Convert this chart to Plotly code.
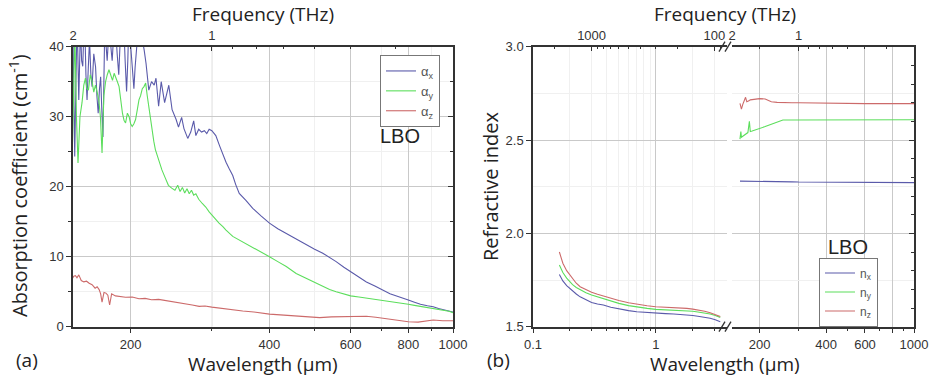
import math
import plotly.graph_objects as go

W, H = 932, 383
def px(x): return x / W
def py(y): return 1 - y / H

# ---------------- Panel (a): absorption coefficient ----------------
ax_lam = [149.8, 150.5, 151.3, 152.2, 153.1, 154.4, 155.7, 156.6, 157.5, 158.3, 159.1, 160.0,
          160.9, 161.9, 162.9, 164.0, 165.0, 166.4, 167.9, 169.0, 170.1, 171.2, 172.2, 173.2,
          174.2, 175.0, 175.9, 177.0, 177.9, 179.0, 180.1, 181.2, 182.4, 183.9, 185.4, 187.0,
          188.5, 189.6, 190.7, 192.0, 193.3, 194.6, 196.0, 197.2, 198.3, 199.6, 201.0, 202.2,
          203.3, 204.5, 205.7, 207.1, 208.5, 210.3, 212.1, 214.0, 216.0, 219.0, 222.0, 225.0,
          227.0, 230.0, 233.0, 237.0, 242.0, 246.0, 248.0, 251.0, 254.0, 258.0, 261.0, 266.0,
          270.0, 274.0, 277.0, 281.0, 285.0, 289.0, 292.5, 296.0, 300.0, 306.0, 312.0, 317.0,
          322.0, 327.0, 333.0, 338.0, 344.0, 356.0, 368.0, 384.0, 400.0, 417.0, 435.0, 457.0,
          481.0, 500.0, 522.0, 540.0, 558.0, 580.0, 600.0, 625.0, 649.0, 677.0, 705.0, 730.0,
          760.0, 780.0, 800.0, 825.0, 850.0, 880.0, 906.0, 930.0, 955.0, 980.0, 1000.0]
ax_val = [44, 30, 24.3, 35, 44, 32.4, 43, 38, 37.2, 42, 43, 36,
          32.4, 37, 41, 36, 34.3, 39, 37.1, 33, 30.5, 34, 35.7, 31,
          27.1, 35, 44, 40, 38, 41, 44, 40, 38, 42, 43, 39,
          36, 40, 44, 42, 43, 38, 33.6, 38, 44, 41, 38, 36,
          34, 37, 39, 43, 44, 42, 41, 39.5, 37.6, 33.8, 35, 34.5,
          35.5, 31.5, 35, 32, 34.5, 31, 30.5, 29.6, 28.5, 29.9, 28.3, 26.9,
          27.8, 29.4, 27.3, 28.2, 27.8, 28, 27.6, 28.2, 28, 27.3, 25.8, 24.6,
          23.5, 22.6, 21.6, 20.3, 19.05, 18.0, 16.9, 15.8, 14.8, 14.0, 13.3, 12.5,
          11.7, 11.1, 10.5, 9.9, 9.3, 8.5, 7.86, 7.1, 6.4, 5.8, 5.2, 4.7,
          4.3, 4.0, 3.8, 3.5, 3.2, 3.0, 2.86, 2.6, 2.4, 2.25, 2.1]

ay_lam = [149.2, 150.3, 151.4, 152.6, 153.8, 155.3, 156.9, 158.3, 159.6, 160.8, 162.0, 163.5,
          165.0, 166.4, 167.8, 169.2, 170.6, 172.0, 173.4, 175.0, 176.5, 178.0, 179.5, 181.0,
          182.7, 184.2, 185.7, 187.2, 188.8, 190.4, 192.0, 193.5, 195.0, 196.8, 198.5, 200.0,
          201.6, 203.3, 205.0, 206.8, 208.5, 210.2, 212.0, 213.8, 215.6, 217.3, 219.0, 220.8,
          222.7, 224.5, 226.3, 230.0, 233.8, 237.6, 241.5, 245.5, 249.5, 253.0, 256.0, 259.0,
          262.0, 265.0, 268.0, 271.0, 274.0, 277.0, 281.0, 286.0, 291.0, 296.0, 301.0, 306.0,
          311.0, 317.0, 322.0, 333.0, 344.0, 356.0, 368.0, 384.0, 400.0, 417.0, 435.0, 457.0,
          481.0, 500.0, 522.0, 540.0, 558.0, 580.0, 600.0, 625.0, 649.0, 677.0, 705.0, 730.0,
          760.0, 780.0, 800.0, 825.0, 850.0, 880.0, 906.0, 930.0, 955.0, 980.0, 1000.0]
ay_val = [22.4, 38, 42, 30, 23.4, 30, 32, 34.5, 35.5, 34, 33.8, 36,
          35, 33.5, 34.5, 33.5, 32.4, 30, 24.8, 33, 35, 36, 36.7, 36,
          35.2, 36.2, 35.7, 35, 34.3, 32, 30.5, 29.5, 29.1, 30.5, 30, 29,
          28.6, 29, 29.6, 31, 32.4, 33, 34, 34.3, 34.8, 33, 31.4, 29.5,
          27.6, 26.5, 25.3, 23.8, 22.4, 21.3, 20.2, 19.8, 19.5, 20.2, 19.3, 19.9,
          19.1, 19.7, 19.0, 19.5, 18.8, 19.0, 18.2, 17.6, 17.1, 16.4, 15.8, 15.3,
          14.8, 14.3, 13.8, 12.9, 12.4, 11.9, 11.4, 10.7, 10.0, 9.3, 8.6, 7.6,
          6.9, 6.3, 5.7, 5.3, 5.0, 4.7, 4.4, 4.25, 4.1, 3.95, 3.8, 3.65,
          3.5, 3.35, 3.2, 3.05, 2.9, 2.75, 2.65, 2.5, 2.35, 2.2, 2.0]

az_lam = [149.5, 150.6, 151.8, 153.0, 154.4, 156.3, 158.3, 160.5, 162.6, 165.0, 167.5, 169.2,
          170.9, 172.2, 173.4, 174.3, 175.1, 176.8, 178.5, 180.1, 181.0, 181.9, 185.4, 190.0,
          195.0, 201.6, 208.5, 215.0, 222.0, 230.0, 238.0, 245.0, 255.0, 265.0, 272.0, 281.6,
          290.0, 300.0, 315.0, 333.0, 350.0, 370.0, 400.0, 430.0, 466.0, 490.0, 514.0, 545.0,
          575.0, 600.0, 649.0, 680.0, 705.0, 735.0, 762.0, 800.0, 840.0, 870.0, 906.0, 950.0,
          1000.0]
az_val = [6.9, 7.2, 7.3, 7.0, 7.4, 6.6, 6.4, 6.5, 6.2, 6.0, 5.5, 5.7,
          5.3, 4.7, 3.5, 4.6, 4.9, 4.8, 4.5, 3.1, 4.2, 4.7, 4.4, 4.3,
          4.2, 4.25, 4.0, 4.05, 3.85, 3.9, 3.75, 3.6, 3.4, 3.3, 3.1, 2.9,
          2.95, 2.8, 2.6, 2.4, 2.25, 2.1, 1.8, 1.65, 1.45, 1.35, 1.3, 1.4,
          1.45, 1.5, 1.5, 1.35, 1.2, 1.0, 0.8, 0.7, 0.65, 0.8, 0.95, 0.85,
          0.85]

# ---------------- Panel (b): refractive index ----------------
uv_lam = [0.164, 0.175, 0.188, 0.2, 0.21, 0.225, 0.242, 0.27, 0.3, 0.335, 0.374, 0.43,
          0.5, 0.6, 0.7, 0.85, 1.0, 1.2, 1.4, 1.6, 1.79, 2.0, 2.2, 2.5, 2.77, 3.05, 3.35]
nx_uv = [1.78, 1.745, 1.72, 1.703, 1.69, 1.675, 1.66, 1.643, 1.63, 1.622, 1.616, 1.604,
         1.595, 1.586, 1.58, 1.575, 1.572, 1.57, 1.568, 1.566, 1.563, 1.56, 1.556, 1.551, 1.545, 1.537, 1.527]
ny_uv = [1.83, 1.79, 1.76, 1.74, 1.725, 1.71, 1.697, 1.682, 1.67, 1.66, 1.652, 1.637,
         1.625, 1.613, 1.605, 1.598, 1.593, 1.591, 1.59, 1.588, 1.586, 1.583, 1.579, 1.574, 1.568, 1.56, 1.55]
nz_uv = [1.90, 1.84, 1.80, 1.775, 1.755, 1.733, 1.714, 1.697, 1.685, 1.674, 1.664, 1.651,
         1.64, 1.628, 1.62, 1.612, 1.607, 1.605, 1.603, 1.601, 1.598, 1.594, 1.59, 1.583, 1.575, 1.566, 1.555]

thz_lam = [163.0, 164.5, 165.5, 167.7, 170.0, 172.8, 175.0, 177.0, 179.8, 181.5, 185.0, 190.0,
           200.0, 212.0, 226.0, 240.0, 255.0, 280.0, 300.0, 350.0, 400.0, 500.0, 600.0, 700.0,
           800.0, 900.0, 1000.0]
nx_thz = [2.28, 2.28, 2.28, 2.279, 2.279, 2.279, 2.279, 2.278, 2.278, 2.278, 2.278, 2.278,
          2.278, 2.277, 2.277, 2.277, 2.276, 2.276, 2.275, 2.275, 2.275, 2.274, 2.273, 2.273,
          2.273, 2.272, 2.272]
ny_thz = [2.505, 2.545, 2.515, 2.52, 2.525, 2.53, 2.535, 2.54, 2.60, 2.545, 2.548, 2.552,
          2.56, 2.572, 2.585, 2.597, 2.607, 2.607, 2.607, 2.606, 2.606, 2.607, 2.607, 2.607,
          2.608, 2.608, 2.609]
nz_thz = [2.697, 2.68, 2.665, 2.69, 2.705, 2.729, 2.705, 2.71, 2.712, 2.715, 2.717, 2.719,
          2.722, 2.72, 2.705, 2.702, 2.70, 2.70, 2.70, 2.698, 2.697, 2.696, 2.695, 2.695,
          2.695, 2.695, 2.695]

BLUE, GREEN, RED = "#5a5aaa", "#5cde5c", "#cc6a6a"
GRID, MGRID = "#c9c9c9", "#f0f0f0"
TICKFONT = dict(family="Liberation Sans, Arial", size=13, color="#333")
TITLEFONT = dict(family="Open Sans, Liberation Sans", size=19, color="#222")

fig = go.Figure()
for lam, val, col, nm in [(ax_lam, ax_val, BLUE, "α<sub>x</sub>"),
                          (ay_lam, ay_val, GREEN, "α<sub>y</sub>"),
                          (az_lam, az_val, RED, "α<sub>z</sub>")]:
    fig.add_trace(go.Scatter(x=lam, y=val, xaxis="x", yaxis="y", mode="lines",
                             line=dict(color=col, width=1.1), name=nm, legend="legend"))
for uv, thz, col, nm in [(nx_uv, nx_thz, BLUE, "n<sub>x</sub>"),
                         (ny_uv, ny_thz, GREEN, "n<sub>y</sub>"),
                         (nz_uv, nz_thz, RED, "n<sub>z</sub>")]:
    fig.add_trace(go.Scatter(x=uv_lam, y=uv, xaxis="x3", yaxis="y3", mode="lines",
                             line=dict(color=col, width=1.1), name=nm, legend="legend2"))
    fig.add_trace(go.Scatter(x=thz_lam, y=thz, xaxis="x4", yaxis="y4", mode="lines",
                             line=dict(color=col, width=1.1), showlegend=False))

# invisible anchors so that the secondary (frequency / mirror) axes are drawn
for xa, ya, xv, yv in [("x2", "y", 300, 20), ("x", "y2", 300, 20), ("x5", "y3", 1, 2),
                       ("x6", "y4", 300, 2), ("x4", "y5", 300, 2)]:
    fig.add_trace(go.Scatter(x=[xv], y=[yv], xaxis=xa, yaxis=ya, mode="markers",
                             marker=dict(opacity=0), showlegend=False, hoverinfo="skip"))

base = dict(showline=True, linecolor="#333", linewidth=1.5, tickcolor="#333", tickwidth=1.2,
            tickfont=TICKFONT, zeroline=False, automargin=False)

YDOM = [py(326.7), py(46.7)]
thz_minor = [300 / f for f in (0.9, 0.8, 0.7, 0.6, 0.5, 0.4, 0.3)]

layout = dict(
    width=W, height=H, margin=dict(l=0, r=0, t=0, b=0),
    paper_bgcolor="white", plot_bgcolor="white", showlegend=True,
    # panel a
    xaxis=dict(base, domain=[px(73), px(453)], anchor="y", type="log",
               range=[math.log10(150), 3], tickmode="array",
               tickvals=[200, 400, 600, 800, 1000], ticktext=["200", "400", "600", "800", "1000"],
               ticks="outside", ticklen=5, showgrid=True, gridcolor=GRID, gridwidth=1,
               minor=dict(tickmode="array", tickvals=[300, 500, 700, 900], ticks="outside",
                          ticklen=3, tickcolor="#333", showgrid=True, gridcolor=MGRID)),
    xaxis2=dict(base, overlaying="x", anchor="y", side="top", type="log",
                range=[math.log10(150), 3], tickmode="array", tickvals=[150, 300],
                ticktext=["2", "1"], ticks="inside", ticklen=5, showgrid=False,
                minor=dict(tickmode="array", tickvals=[200] + thz_minor, ticks="inside",
                           ticklen=3, tickcolor="#333", showgrid=False)),
    yaxis=dict(base, domain=YDOM, anchor="x", range=[0, 40], tickmode="array",
               tickvals=[0, 10, 20, 30, 40], ticks="outside", ticklen=5,
               showgrid=True, gridcolor=GRID,
               minor=dict(tickmode="array", tickvals=[5, 15, 25, 35], ticks="outside",
                          ticklen=3, tickcolor="#333", showgrid=True, gridcolor=MGRID)),
    yaxis2=dict(base, overlaying="y", anchor="x", side="right", range=[0, 40],
                tickmode="array", tickvals=[0, 10, 20, 30, 40], ticks="inside", ticklen=5,
                showticklabels=False, showgrid=False,
                minor=dict(tickmode="array", tickvals=[5, 15, 25, 35], ticks="inside",
                           ticklen=3, tickcolor="#333")),
    # panel b, left segment (UV-IR)
    xaxis3=dict(base, domain=[px(533), px(727)], anchor="y3", type="log",
                range=[-1, math.log10(3.8)], tickmode="array", tickvals=[0.1, 1],
                ticktext=["0.1", "1"], ticks="outside", ticklen=5, showgrid=True, gridcolor=GRID,
                minor=dict(tickmode="array",
                           tickvals=[0.2, 0.3, 0.4, 0.5, 0.6, 0.7, 0.8, 0.9, 2, 3],
                           ticks="outside", ticklen=3, tickcolor="#333",
                           showgrid=True, gridcolor=MGRID)),
    xaxis5=dict(base, overlaying="x3", anchor="y3", side="top", type="log",
                range=[-1, math.log10(3.8)], tickmode="array",
                tickvals=[300 / 1000, 300 / 100], ticktext=["1000", "100"],
                ticks="inside", ticklen=5, showgrid=False,
                minor=dict(tickmode="array",
                           tickvals=[300 / f for f in (2000, 900, 800, 700, 600, 500, 400, 300, 200, 90, 80)],
                           ticks="inside", ticklen=3, tickcolor="#333", showgrid=False)),
    yaxis3=dict(base, domain=YDOM, anchor="x3", range=[1.5, 3.0], tickmode="array",
                tickvals=[1.5, 2.0, 2.5, 3.0], ticktext=["1.5", "2.0", "2.5", "3.0"],
                ticks="outside", ticklen=5, showgrid=True, gridcolor=GRID,
                minor=dict(tickmode="array", tickvals=[1.75, 2.25, 2.75], ticks="",
                           showgrid=True, gridcolor=MGRID)),
    # panel b, right segment (THz)
    xaxis4=dict(base, domain=[px(732), px(914)], anchor="y4", type="log",
                range=[math.log10(150), 3], tickmode="array",
                tickvals=[200, 400, 600, 800, 1000], ticktext=["200", "400", "600", "", "1000"],
                ticks="outside", ticklen=5, showgrid=True, gridcolor=GRID,
                minor=dict(tickmode="array", tickvals=[300, 500, 700, 900], ticks="outside",
                           ticklen=3, tickcolor="#333", showgrid=False)),
    xaxis6=dict(base, overlaying="x4", anchor="y4", side="top", type="log",
                range=[math.log10(150), 3], tickmode="array", tickvals=[150, 300],
                ticktext=["2", "1"], ticks="inside", ticklen=5, showgrid=False,
                minor=dict(tickmode="array", tickvals=[200] + thz_minor, ticks="inside",
                           ticklen=3, tickcolor="#333", showgrid=False)),
    yaxis4=dict(base, domain=YDOM, anchor="x4", range=[1.5, 3.0], tickmode="array",
                tickvals=[2.0, 2.5], showticklabels=False, ticks="", showline=False,
                showgrid=True, gridcolor=GRID,
                minor=dict(tickmode="array", tickvals=[1.75, 2.25, 2.75], ticks="",
                           showgrid=True, gridcolor=MGRID)),
    yaxis5=dict(base, overlaying="y4", anchor="x4", side="right", range=[1.5, 3.0],
                tickmode="array", tickvals=[1.5, 2.0, 2.5, 3.0], ticks="inside", ticklen=5,
                showticklabels=False, showgrid=False,
                minor=dict(tickmode="array",
                           tickvals=[1.6, 1.7, 1.8, 1.9, 2.1, 2.2, 2.3, 2.4, 2.6, 2.7, 2.8, 2.9],
                           ticks="inside", ticklen=3, tickcolor="#333")),
    legend=dict(x=px(380), y=py(55), xanchor="left", yanchor="top", bordercolor="#777",
                borderwidth=1, bgcolor="white", itemwidth=30, tracegroupgap=0,
                font=dict(family="Liberation Sans, Arial", size=13, color="#555")),
    legend2=dict(x=px(819), y=py(257.5), xanchor="left", yanchor="top", bordercolor="#777",
                 borderwidth=1, bgcolor="white", itemwidth=30, tracegroupgap=0,
                 font=dict(family="Liberation Sans, Arial", size=12, color="#555")),
)
fig.update_layout(**layout)

# grid lines that belong to the frequency (top) axes: 1 THz = 300 um
for xr, yr, y0, y1 in [("x", "y", 0, 40), ("x4", "y4", 1.5, 3.0)]:
    fig.add_shape(type="line", xref=xr, yref=yr, x0=300, x1=300, y0=y0, y1=y1,
                  layer="below", line=dict(color=GRID, width=1))

annots = [
    dict(x=px(263), y=py(14), text="Frequency (THz)"),
    dict(x=px(725), y=py(14), text="Frequency (THz)"),
    dict(x=px(263), y=py(364), text="Wavelength (μm)"),
    dict(x=px(725), y=py(364), text="Wavelength (μm)"),
    dict(x=px(27), y=py(360), text="(a)"),
    dict(x=px(498), y=py(360), text="(b)"),
]
for a in annots:
    fig.add_annotation(xref="paper", yref="paper", showarrow=False, font=TITLEFONT,
                       xanchor="center", yanchor="middle", **a)
for x, t in [(18, "Absorption coefficient (cm<sup>-1</sup>)"), (490, "Refractive index")]:
    fig.add_annotation(xref="paper", yref="paper", x=px(x), y=py(186), text=t, textangle=-90,
                       showarrow=False, xanchor="center", yanchor="middle",
                       font=dict(TITLEFONT, size=20))
for x, y in [(400, 136), (848, 247)]:
    fig.add_annotation(xref="paper", yref="paper", x=px(x), y=py(y), text="LBO",
                       showarrow=False, xanchor="center", yanchor="middle",
                       font=dict(family="Liberation Sans, Arial", size=20, color="#222"))

# axis break marks
for yc in (46.7, 326.7):
    for xc in (722, 728):
        fig.add_shape(type="line", xref="paper", yref="paper",
                      x0=px(xc - 3), y0=py(yc + 5), x1=px(xc + 3), y1=py(yc - 5),
                      line=dict(color="#333", width=1.3))

fig.write_html("out.html", config={"displayModeBar": False},
               post_script="document.body.style.margin='0px';")
